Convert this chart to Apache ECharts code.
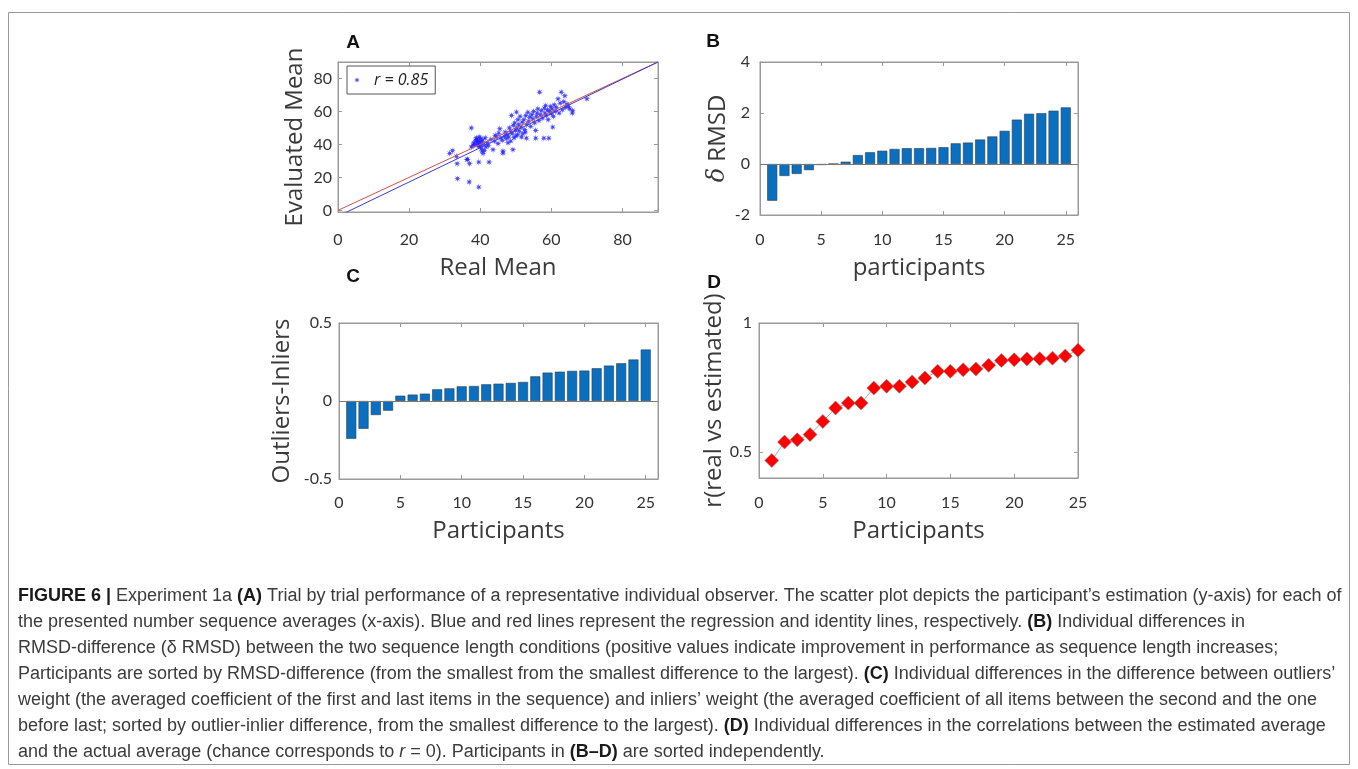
<!DOCTYPE html>
<html>
<head>
<meta charset="utf-8">
<script src="https://cdn.jsdelivr.net/npm/echarts@6/dist/echarts.min.js"></script>
<style>
  html, body { margin: 0; padding: 0; background: #fff; }
  #chart { width: 1358px; height: 769px; }
</style>
</head>
<body>
<div id="chart"></div>
<script>
// (A) trial by trial: [real mean, evaluated mean]
const trials = [
  [31.4,34.5],[32.2,36.2],[33.3,32.8],[33.5,28.3],[33.6,19.2],[36.3,30.8],[37,28.3],[36.9,17.2],[39.6,14.1],[39.6,29.3],[42.5,29.3],[36.4,31],[37.5,50],
  [37.5,38.5],[38,39.5],[38.2,41],[38.5,40],[38.7,42.5],[38.9,44],[39,43],[39.2,41.5],[39.3,40.2],[39.5,38.8],[39.6,42],[39.8,44.5],[39.9,40.8],[40,43.5],
  [40.1,39],[40.3,37.5],[40.4,41.8],[40.5,36],[40.7,42.8],[40.8,34.5],[41,40],[41.2,36.4],[41.4,44],[41.6,38.5],[42,41],[42.3,39.2],
  [43,43],[43.6,36.8],[44,42],[44.2,45.5],[44.5,44.5],[45,40.5],[45.2,46.8],[45.5,49.5],[45.8,44],[46.2,42.5],[46.4,36],[46.4,34.7],[46.8,45],[47,47.5],
  [47.3,43.5],[47.6,46],[47.8,41],[48,44.5],[48.2,50],[48.5,48],[48.6,42],[48.8,57.6],[49,46.5],[49.2,36.8],[49.3,51.5],[49.5,44],[49.7,53],[49.9,48.5],
  [50,45],[50.2,59.6],[50.3,50],[50.5,46],[50.6,55],[50.8,52],[51,48],[51.2,57],[51.5,50.5],[51.6,44.5],[51.8,53.5],[52,46.5],[52.3,55],[52.5,49],
  [52.7,47.5],[52.8,57.5],[53,43.8],[53.1,52],[53.4,59.5],[53.6,54],[53.9,56.5],[54.2,51],[54.5,58],[54.8,55.5],[55,60],[55.3,53],[55.6,48.5],[55.6,43.8],
  [55.8,57],[56,59],[56.2,61.5],[56.5,54.5],[56.7,71.7],[56.9,58],[57.2,60.5],[57.5,56],[57.9,43.8],[58,62],[58.2,59],[58.4,63.6],[58.6,57.5],[58.9,61],
  [59.1,55],[59.3,43.8],[59.5,60],[59.8,63],[60,58.5],[60.2,61.5],[60.4,50.5],[60.6,57],[60.8,64],[61.1,60],[61.4,62.5],[61.9,67.7],[62.2,59],[62.5,65],
  [62.8,71.7],[63.1,61],[63.5,66],[63.8,69.5],[64,62.5],[64.4,64.5],[64.8,63],[65.2,61.5],[65.9,59],[66,60.5],[70,67.7]
];
const regressionLine = [[0, -3.6], [90, 90]];
const identityLine = [[0, 0], [90, 90]];

// (B)-(D) per participant, each sorted
const participants = [1,2,3,4,5,6,7,8,9,10,11,12,13,14,15,16,17,18,19,20,21,22,23,24,25];
const rmsdDiff = [-1.44,-0.47,-0.39,-0.24,-0.04,0.005,0.09,0.35,0.46,0.52,0.59,0.62,0.62,0.63,0.66,0.81,0.84,0.96,1.08,1.3,1.74,1.97,1.99,2.09,2.22];
const outInDiff = [-0.242,-0.178,-0.09,-0.062,0.034,0.041,0.047,0.075,0.081,0.094,0.096,0.107,0.111,0.116,0.122,0.158,0.182,0.188,0.193,0.195,0.21,0.227,0.242,0.266,0.33];
const corrR = [0.468,0.539,0.548,0.568,0.619,0.671,0.69,0.69,0.748,0.755,0.755,0.772,0.787,0.813,0.813,0.819,0.822,0.836,0.855,0.858,0.861,0.862,0.864,0.872,0.895];

const meanTicks = [0, 20, 40, 60, 80];
const partTicks = [0, 5, 10, 15, 20, 25];

const captionLines = [
  '{b|FIGURE 6 |} Experiment 1a {b|(A)} Trial by trial performance of a representative individual observer. The scatter plot depicts the participant’s estimation (y-axis) for each of',
  'the presented number sequence averages (x-axis). Blue and red lines represent the regression and identity lines, respectively. {b|(B)} Individual differences in',
  'RMSD-difference (δ RMSD) between the two sequence length conditions (positive values indicate improvement in performance as sequence length increases;',
  'Participants are sorted by RMSD-difference (from the smallest from the smallest difference to the largest). {b|(C)} Individual differences in the difference between outliers’',
  'weight (the averaged coefficient of the first and last items in the sequence) and inliers’ weight (the averaged coefficient of all items between the second and the one',
  'before last; sorted by outlier-inlier difference, from the smallest difference to the largest). {b|(D)} Individual differences in the correlations between the estimated average',
  'and the actual average (chance corresponds to {i|r} = 0). Participants in {b|(B–D)} are sorted independently.'
];

const FRAME = '#9a9a9a';
const TICK_FONT = { color: '#333', fontFamily: 'Lato, sans-serif', fontSize: 16 };
const NAME_FONT = { color: '#3a3a3a', fontFamily: '"Open Sans", sans-serif', fontSize: 24 };
const CAP_FONT = 'Liberation Sans, Arial, sans-serif';
const CAP_SIZE = 18;
// MATLAB-like '*' marker
const STAR = 'path://M10,0L3.23,1.34L7.07,7.07L1.34,3.23L0,10L-1.34,3.23L-7.07,7.07L-3.23,1.34L-10,0L-3.23,-1.34L-7.07,-7.07L-1.34,-3.23L0,-10L1.34,-3.23L7.07,-7.07L3.23,-1.34Z';

const grids = [
  { left: 338, top: 62, width: 320, height: 150 },
  { left: 760, top: 62, width: 318, height: 153 },
  { left: 339, top: 323, width: 319, height: 156 },
  { left: 759, top: 323, width: 319, height: 155 },
].map(g => ({ ...g, show: true, borderColor: FRAME, borderWidth: 1, outerBoundsMode: 'none' }));

function xPair(gi, min, max, ticks, name, gap, margin) {
  const base = {
    type: 'value', gridIndex: gi, min, max, splitLine: { show: false },
    axisLine: { show: true, onZero: false, lineStyle: { color: FRAME } },
    axisTick: { show: true, inside: true, length: 4, customValues: ticks, lineStyle: { color: FRAME } },
  };
  return [
    { ...base, position: 'bottom', name, nameLocation: 'middle', nameGap: gap, nameTextStyle: NAME_FONT,
      axisLabel: { ...TICK_FONT, margin, customValues: ticks } },
    { ...base, position: 'top', axisLabel: { show: false } },
  ];
}

function yPair(gi, min, max, ticks, name, gap, margin) {
  const base = {
    type: 'value', gridIndex: gi, min, max, splitLine: { show: false },
    axisLine: { show: true, onZero: false, lineStyle: { color: FRAME } },
    axisTick: { show: true, inside: true, length: 4, customValues: ticks, lineStyle: { color: FRAME } },
  };
  return [
    { ...base, position: 'left', name, nameLocation: 'middle', nameRotate: 90, nameGap: gap,
      nameTextStyle: { ...NAME_FONT, rich: { i: { ...NAME_FONT, fontStyle: 'italic', fontFamily: 'DejaVu Serif, serif' } } },
      axisLabel: { ...TICK_FONT, margin, customValues: ticks } },
    { ...base, position: 'right', axisLabel: { show: false } },
  ];
}

const zeroLine = {
  silent: true, symbol: 'none', label: { show: false },
  lineStyle: { color: '#7a7a7a', type: 'solid', width: 1 },
  data: [{ yAxis: 0 }],
};

const barStyle = { color: '#0a6fbf', borderColor: '#2b3d52', borderWidth: 0.6 };

const chart = echarts.init(document.getElementById('chart'), null, { renderer: 'canvas' });
chart.setOption({
  backgroundColor: '#fff',
  animation: false,
  grid: grids,
  xAxis: [
    ...xPair(0, 0, 90, meanTicks, 'Real Mean', 44, 20),
    ...xPair(1, 0, 26, partTicks, 'participants', 41, 17),
    ...xPair(2, 0, 26, partTicks, 'Participants', 40, 16),
    ...xPair(3, 0, 25, partTicks, 'Participants', 41, 17),
  ],
  yAxis: [
    ...yPair(0, -1, 90, meanTicks, 'Evaluated Mean', 31, 6),
    ...yPair(1, -2, 4, [-2, 0, 2, 4], '{i|δ} RMSD', 30, 10),
    ...yPair(2, -0.5, 0.5, [-0.5, 0, 0.5], 'Outliers-Inliers', 45, 7),
    ...yPair(3, 0.4, 1, [0.5, 1], 'r(real vs estimated)', 32, 7),
  ],
  legend: {
    data: ['r = 0.85'], left: 347, top: 66, padding: [6, 7],
    borderColor: '#555', borderWidth: 1, backgroundColor: '#fff',
    itemWidth: 14, itemHeight: 6, itemGap: 0, selectedMode: false,
    textStyle: { fontStyle: 'italic', fontFamily: '"Open Sans", sans-serif', fontSize: 16, color: '#222', padding: [0, 0, 0, 5] },
  },
  series: [
    { type: 'line', xAxisIndex: 0, yAxisIndex: 0, data: identityLine, showSymbol: false, silent: true,
      lineStyle: { color: '#d05050', width: 1 } },
    { type: 'line', xAxisIndex: 0, yAxisIndex: 0, data: regressionLine, showSymbol: false, silent: true,
      lineStyle: { color: '#3b3bd0', width: 1 } },
    { name: 'r = 0.85', type: 'scatter', xAxisIndex: 0, yAxisIndex: 0, data: trials,
      symbol: STAR, symbolSize: 7, itemStyle: { color: '#1a1aff' } },
    { type: 'bar', xAxisIndex: 2, yAxisIndex: 2, barWidth: 10, itemStyle: barStyle,
      data: participants.map((p, i) => [p, rmsdDiff[i]]), markLine: zeroLine },
    { type: 'bar', xAxisIndex: 4, yAxisIndex: 4, barWidth: 10, itemStyle: barStyle,
      data: participants.map((p, i) => [p, outInDiff[i]]), markLine: zeroLine },
    { type: 'line', xAxisIndex: 6, yAxisIndex: 6, symbol: 'diamond', symbolSize: 14, showAllSymbol: true,
      data: participants.map((p, i) => [p, corrR[i]]),
      lineStyle: { color: '#86b7c9', width: 1 },
      itemStyle: { color: '#ff0000', borderColor: '#8a8a8a', borderWidth: 0.6 } },
  ],
  graphic: [
    { type: 'rect', silent: true, shape: { x: 8.5, y: 12.5, width: 1341, height: 752 },
      style: { fill: 'none', stroke: '#9a9a9a', lineWidth: 1 } },
    ...[['A', 353, 43], ['B', 713, 42], ['C', 353, 277], ['D', 714, 283]].map(([t, x, y]) => ({
      type: 'text', x, y, silent: true,
      style: { text: t, fill: '#111', font: 'bold 19px Liberation Sans, Arial, sans-serif', align: 'center', verticalAlign: 'middle' },
    })),
    ...captionLines.map((line, k) => ({
      type: 'text', x: 18, y: 596 + k * 26, silent: true,
      style: {
        text: line, fill: '#3b3b3b', fontFamily: CAP_FONT, fontSize: CAP_SIZE, verticalAlign: 'middle',
        rich: {
          b: { fontFamily: CAP_FONT, fontSize: CAP_SIZE, fontWeight: 'bold', fill: '#1a1a1a' },
          i: { fontFamily: CAP_FONT, fontSize: CAP_SIZE, fontStyle: 'italic', fill: '#3b3b3b' },
        },
      },
    })),
  ],
});
window.addEventListener('resize', () => chart.resize());
</script>
</body>
</html>
